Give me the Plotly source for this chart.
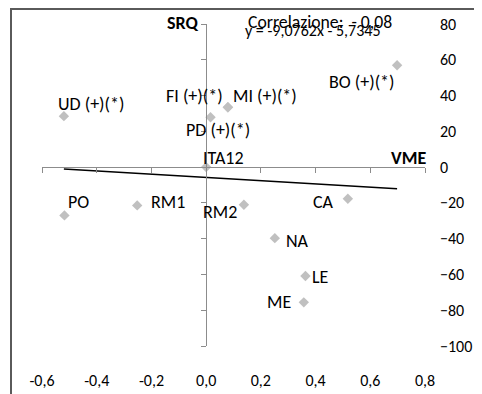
import plotly.graph_objects as go

# ---- data ----
cities = ["BO (+)(*)", "UD (+)(*)", "FI (+)(*)", "MI (+)(*)", "PD (+)(*)", "ITA12",
          "PO", "RM1", "RM2", "CA", "NA", "LE", "ME"]
vme = [0.698, -0.520, 0.079, 0.080, 0.016, 0.0,
       -0.518, -0.252, 0.138, 0.518, 0.251, 0.363, 0.357]
srq = [56.9, 28.5, 33.5, 33.5, 27.9, 0.0,
       -27.0, -21.4, -21.0, -17.7, -39.7, -60.9, -75.6]
slope = -9.0762
intercept = -5.7345
corr_text = "Correlazione:  - 0,08"
eq_text = "y = -9,0762x - 5,7345"
x_ticks = [-0.6, -0.4, -0.2, 0.0, 0.2, 0.4, 0.6, 0.8]
x_ticktext = ["-0,6", "-0,4", "-0,2", "0,0", "0,2", "0,4", "0,6", "0,8"]
y_ticks = [-100, -80, -60, -40, -20, 0, 20, 40, 60, 80]

# ---- style: label placement (anchor, dx px, dy px down) ----
label_pos = {
    "BO (+)(*)": ("right", -1, 17),
    "UD (+)(*)": ("left", -7, -12),
    "FI (+)(*)": ("right", -4, -11),
    "MI (+)(*)": ("left", 4, -11),
    "PD (+)(*)": ("center", 7, 13),
    "ITA12": ("left", -4, -9),
    "PO": ("left", 3, -13),
    "RM1": ("left", 13, -3),
    "RM2": ("right", -6, 7),
    "CA": ("right", -13, 3),
    "NA": ("left", 10, 3),
    "LE": ("left", 6, 1),
    "ME": ("right", -12, 0),
}

FONT = "Carlito, Calibri, Lato, sans-serif"
FS_LABEL = 18
FS_TICK = 16
XR = [-0.6, 0.8]
YR = [-100, 80]
AXC = "#8c8c8c"

# page body has an 8px margin: figure pixel = screen pixel - 8
OFF = 8
L, T = 42 - OFF, 24 - OFF
PW, PH = 383, 322
W, H = 482 - OFF, 394 - OFF
R, B = W - L - PW, H - T - PH


def sx(p):  # screen px -> paper x
    return (p - OFF - L) / PW


def sy(p):  # screen px -> paper y
    return (T + PH - (p - OFF)) / PH


fig = go.Figure()

fig.add_trace(go.Scatter(
    x=vme, y=srq, mode="markers",
    marker=dict(symbol="diamond", size=8, color="#c0c0c0"),
    hoverinfo="skip", showlegend=False))

xmin, xmax = min(vme), max(vme)
fig.add_trace(go.Scatter(
    x=[xmin, xmax], y=[slope * xmin + intercept, slope * xmax + intercept],
    mode="lines", line=dict(color="black", width=1.6),
    xaxis="x2", yaxis="y2", hoverinfo="skip", showlegend=False))

annotations = []
for name, xv, yv in zip(cities, vme, srq):
    anc, dx, dy = label_pos[name]
    annotations.append(dict(
        x=xv, y=yv, xref="x", yref="y", text=name, showarrow=False,
        xanchor=anc, yanchor="middle", xshift=dx, yshift=-dy, borderpad=0,
        font=dict(family=FONT, size=FS_LABEL, color="black")))

annotations += [
    dict(x=0, y=80, xref="x", yref="y", text="<b>SRQ</b>", showarrow=False,
         xanchor="right", yanchor="middle", xshift=-7, yshift=1, borderpad=0,
         font=dict(family=FONT, size=FS_LABEL, color="black")),
    dict(x=0.8, y=0, xref="x", yref="y", text="<b>VME</b>", showarrow=False,
         xanchor="right", yanchor="middle", xshift=2, yshift=9, borderpad=0,
         font=dict(family=FONT, size=FS_LABEL, color="black")),
    dict(x=sx(247), y=sy(22), xref="paper", yref="paper", text=corr_text, showarrow=False,
         xanchor="left", yanchor="middle", borderpad=0,
         font=dict(family=FONT, size=17.7, color="black")),
    dict(x=sx(244), y=sy(31), xref="paper", yref="paper", text=eq_text, showarrow=False,
         xanchor="left", yanchor="middle", borderpad=0,
         font=dict(family=FONT, size=16, color="black")),
]

shapes = [dict(type="rect", xref="paper", yref="paper",
               x0=sx(11), x1=sx(540),
               y0=sy(460), y1=sy(OFF + 1),
               line=dict(color="#5a5a5a", width=2), layer="above")]

fig.update_layout(
    width=W, height=H,
    margin=dict(l=L, r=R, t=T, b=B, autoexpand=False),
    paper_bgcolor="white", plot_bgcolor="white",
    font=dict(family=FONT, size=FS_TICK, color="black"),
    showlegend=False,
    annotations=annotations,
    shapes=shapes,
    xaxis=dict(range=XR, tickvals=x_ticks, ticktext=x_ticktext,
               tickfont=dict(size=FS_TICK), automargin=False,
               showgrid=False, zeroline=False, showline=False, ticks="",
               ticklabelstandoff=23, fixedrange=True),
    yaxis=dict(range=YR, tickvals=y_ticks, side="right",
               tickfont=dict(size=FS_TICK), automargin=False,
               showgrid=False, zeroline=False, showline=False, ticks="",
               ticklabelstandoff=14, fixedrange=True),
    xaxis2=dict(range=XR, tickvals=x_ticks, overlaying="x", anchor="free",
                position=(0 - YR[0]) / (YR[1] - YR[0]), automargin=False,
                showgrid=False, zeroline=False, showline=True, linecolor=AXC, linewidth=1,
                ticks="outside", ticklen=5, tickcolor=AXC, showticklabels=False,
                fixedrange=True),
    yaxis2=dict(range=YR, tickvals=y_ticks, overlaying="y", anchor="free",
                position=(0 - XR[0]) / (XR[1] - XR[0]), side="left", automargin=False,
                showgrid=False, zeroline=False, showline=True, linecolor=AXC, linewidth=1,
                ticks="outside", ticklen=5, tickcolor=AXC, showticklabels=False,
                fixedrange=True),
)

fig.write_html("out.html")
